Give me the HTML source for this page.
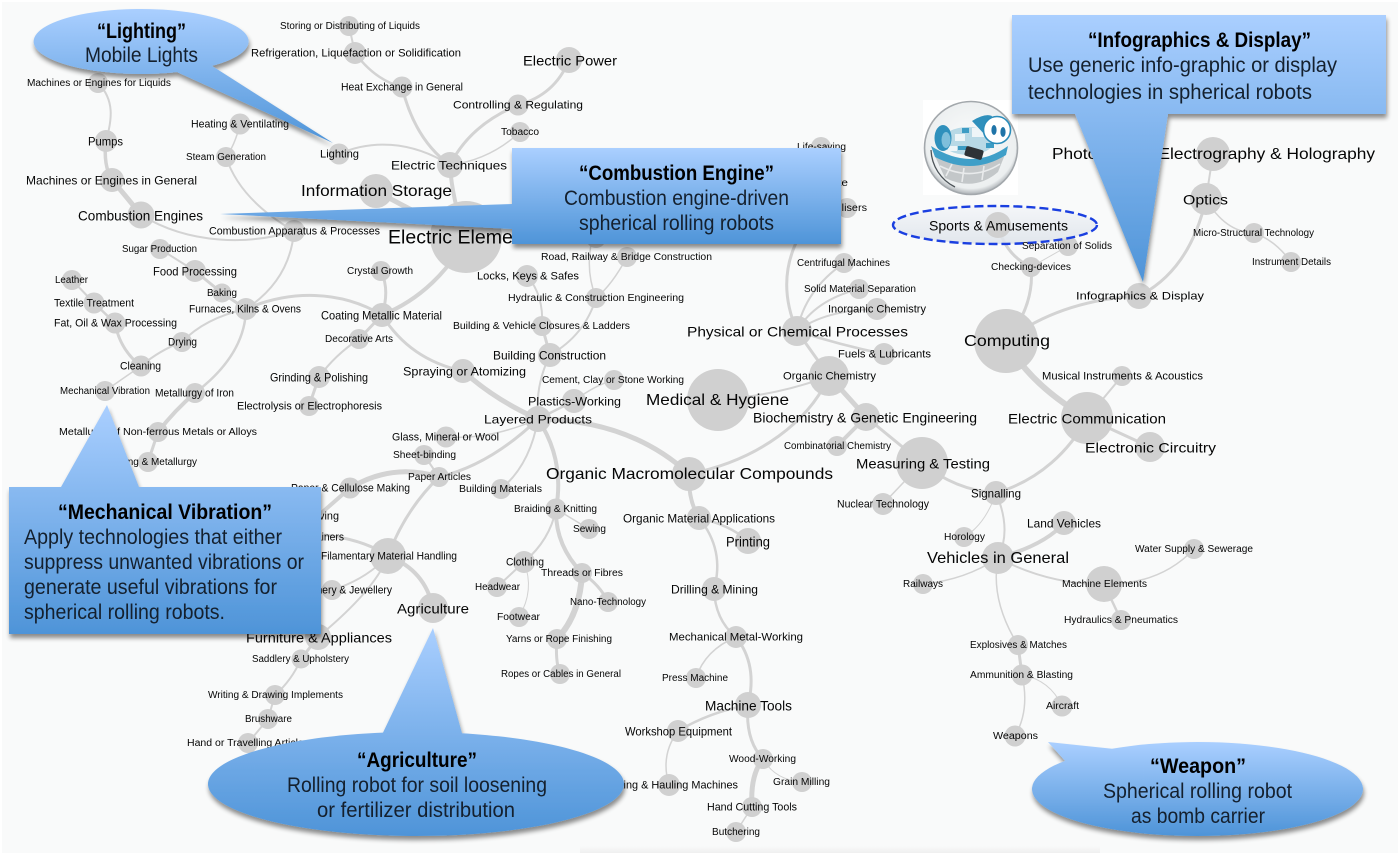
<!DOCTYPE html>
<html><head><meta charset="utf-8"><title>Spherical robot technology map</title>
<style>
html,body{margin:0;padding:0;background:#fff;width:1400px;height:856px;overflow:hidden}
svg{display:block;filter:blur(.3px)}
.e path{fill:none;stroke:#d3d3d3;stroke-linecap:round}
.n circle{fill:#d0d0d0}
.t{transform:translateY(.6px)}
.t text{font-family:"Liberation Sans",Arial,sans-serif;fill:#050505;dominant-baseline:central}
.c text{font-family:"Liberation Sans",Arial,sans-serif;fill:#14202e;dominant-baseline:central;font-size:21.5px}
.c text.b{font-weight:bold;fill:#000}
</style></head><body>
<svg width="1400" height="856" viewBox="0 0 1400 856" xmlns="http://www.w3.org/2000/svg">
<defs>
<linearGradient id="g" x1="0" y1="0" x2="0" y2="1"><stop offset="0" stop-color="#aacfff"/><stop offset="1" stop-color="#4e94d8"/></linearGradient>
<linearGradient id="bot" x1="0" y1="0" x2="0" y2="1"><stop offset="0" stop-color="#f9fafa"/><stop offset="1" stop-color="#efefef"/></linearGradient>
<linearGradient id="sp" x1="0" y1="0" x2="0" y2="1"><stop offset="0" stop-color="#f3f5f8"/><stop offset="1" stop-color="#dde3ea"/></linearGradient>
<radialGradient id="glass" cx=".5" cy=".45" r=".55"><stop offset="0" stop-color="#fbfcfc"/><stop offset=".88" stop-color="#eceff0"/><stop offset="1" stop-color="#a9aeb2"/></radialGradient>
<filter id="sh" x="-10%" y="-10%" width="120%" height="125%"><feGaussianBlur in="SourceAlpha" stdDeviation="2.5"/><feOffset dx="1" dy="4"/><feComponentTransfer><feFuncA type="linear" slope=".45"/></feComponentTransfer><feMerge><feMergeNode/><feMergeNode in="SourceGraphic"/></feMerge></filter>
</defs>
<rect width="1400" height="856" fill="#fff"/>
<rect x="2" y="2" width="1396" height="851" fill="#f9fafa"/>
<rect x="580" y="846" width="520" height="7" fill="url(#bot)"/>

<g class="e">
<path stroke-width="5" d="M376 191Q420 215 466 237"/>
<path stroke-width="4" d="M450 165Q452 200 466 237"/>
<path stroke-width="3" d="M450 165Q415 140 402 87"/>
<path stroke-width="2.5" d="M402 87Q375 80 355 53"/>
<path stroke-width="2" d="M355 53L349 26"/>
<path stroke-width="2" d="M450 165C410 140 370 140 339 154"/>
<path stroke-width="3" d="M450 165Q470 125 518 105"/>
<path stroke-width="3" d="M518 105Q555 95 569 60"/>
<path stroke-width="1.5" d="M450 165Q490 160 520 132"/>
<path stroke-width="2" d="M294 231Q240 200 226 157"/>
<path stroke-width="1.5" d="M226 157Q235 145 240 124"/>
<path stroke-width="2" d="M141 215C190 245 250 245 294 231"/>
<path stroke-width="5" d="M141 215Q125 195 112 180"/>
<path stroke-width="3.5" d="M112 180Q103 165 106 141"/>
<path stroke-width="2" d="M106 141C112 120 115 100 98 83"/>
<path stroke-width="2" d="M294 231Q290 280 246 309"/>
<path stroke-width="3" d="M246 309L222 293"/>
<path stroke-width="3" d="M222 293L195 271"/>
<path stroke-width="2" d="M195 271L160 249"/>
<path stroke-width="2.5" d="M246 309Q245 355 195 393"/>
<path stroke-width="4" d="M195 393Q175 410 158 432"/>
<path stroke-width="3" d="M158 432L148 462"/>
<path stroke-width="2" d="M246 309Q205 318 182 342"/>
<path stroke-width="2" d="M182 342Q160 350 141 366"/>
<path stroke-width="1.5" d="M141 366L105 391"/>
<path stroke-width="3" d="M141 366Q120 350 115 323"/>
<path stroke-width="2.5" d="M115 323L94 303"/>
<path stroke-width="2" d="M94 303L72 280"/>
<path stroke-width="3" d="M246 309C290 290 340 290 382 315"/>
<path stroke-width="4" d="M382 315C420 300 450 270 466 237"/>
<path stroke-width="3" d="M382 315Q390 290 381 271"/>
<path stroke-width="3" d="M382 315L359 339"/>
<path stroke-width="2" d="M359 339Q335 355 319 377"/>
<path stroke-width="3" d="M319 377L309 406"/>
<path stroke-width="3" d="M382 315Q410 360 463 371"/>
<path stroke-width="5" d="M463 371Q495 400 538 419"/>
<path stroke-width="5" d="M538 419Q630 420 689 474"/>
<path stroke-width="2" d="M550 355Q535 385 538 419"/>
<path stroke-width="2.5" d="M574 401L538 419"/>
<path stroke-width="3" d="M550 355L542 326"/>
<path stroke-width="2" d="M542 326Q544 295 527 276"/>
<path stroke-width="2" d="M550 355Q585 335 596 298"/>
<path stroke-width="1.5" d="M596 298Q612 285 627 257"/>
<path stroke-width="1.5" d="M596 298Q585 270 592 240"/>
<path stroke-width="1.5" d="M574 401Q595 385 614 380"/>
<path stroke-width="1.5" d="M538 419Q490 440 446 437"/>
<path stroke-width="3" d="M538 419Q490 465 439 477"/>
<path stroke-width="5" d="M439 477C410 468 380 470 350 488"/>
<path stroke-width="4" d="M350 488L318 516"/>
<path stroke-width="2" d="M424 455L439 477"/>
<path stroke-width="3" d="M439 477Q405 510 388 556"/>
<path stroke-width="2" d="M538 419Q530 465 501 489"/>
<path stroke-width="4" d="M538 419Q565 460 556 509"/>
<path stroke-width="4" d="M556 509Q555 545 582 573"/>
<path stroke-width="3" d="M582 573Q600 585 608 602"/>
<path stroke-width="6" d="M582 573Q580 615 557 639"/>
<path stroke-width="3" d="M557 639Q555 660 560 674"/>
<path stroke-width="1.5" d="M556 509L589 529"/>
<path stroke-width="2" d="M556 509Q550 540 524 562"/>
<path stroke-width="2" d="M524 562L497 587"/>
<path stroke-width="1" d="M524 562Q535 590 519 617"/>
<path stroke-width="4" d="M388 556Q425 570 433 608"/>
<path stroke-width="3" d="M388 556Q365 540 325 535"/>
<path stroke-width="2" d="M388 556Q365 580 332 590"/>
<path stroke-width="2" d="M388 556Q375 590 318 637"/>
<path stroke-width="3" d="M318 637L301 659"/>
<path stroke-width="2" d="M301 659Q292 680 275 695"/>
<path stroke-width="2" d="M275 695L268 719"/>
<path stroke-width="2" d="M268 719L248 743"/>
<path stroke-width="3" d="M689 474C760 460 810 420 829 376"/>
<path stroke-width="4" d="M689 474Q688 500 699 518"/>
<path stroke-width="2.5" d="M699 518Q730 525 748 541"/>
<path stroke-width="2.5" d="M699 518Q725 550 714 589"/>
<path stroke-width="2.5" d="M714 589Q715 620 736 637"/>
<path stroke-width="1.5" d="M736 637Q705 650 696 678"/>
<path stroke-width="3" d="M736 637Q758 665 748 705"/>
<path stroke-width="2.5" d="M748 705Q710 712 678 731"/>
<path stroke-width="1.5" d="M678 731Q660 755 669 785"/>
<path stroke-width="3" d="M748 705Q745 740 763 759"/>
<path stroke-width="1" d="M763 759Q775 780 802 782"/>
<path stroke-width="5" d="M763 759Q750 775 752 807"/>
<path stroke-width="1.5" d="M752 807L736 832"/>
<path stroke-width="3" d="M829 376L797 331"/>
<path stroke-width="2" d="M718 400Q780 395 829 376"/>
<path stroke-width="2.5" d="M797 331Q840 345 884 354"/>
<path stroke-width="2" d="M797 331Q825 310 877 309"/>
<path stroke-width="2" d="M797 331Q815 300 859 289"/>
<path stroke-width="2" d="M797 331Q805 290 844 263"/>
<path stroke-width="3" d="M797 331Q775 280 800 235"/>
<path stroke-width="5" d="M829 376L866 417"/>
<path stroke-width="4" d="M866 417L837 446"/>
<path stroke-width="3" d="M866 417L922 463"/>
<path stroke-width="1.5" d="M922 463L883 504"/>
<path stroke-width="3" d="M922 463Q955 490 996 493"/>
<path stroke-width="3" d="M996 493C1040 480 1070 450 1087 418"/>
<path stroke-width="6" d="M1006 341Q1030 385 1087 418"/>
<path stroke-width="2" d="M1087 418L1122 376"/>
<path stroke-width="3" d="M1087 418L1150 447"/>
<path stroke-width="3" d="M1006 341Q1035 305 1031 267"/>
<path stroke-width="3" d="M1031 267Q1005 255 998 225"/>
<path stroke-width="1" d="M1031 267L1068 246"/>
<path stroke-width="3" d="M1006 341Q1060 300 1139 296"/>
<path stroke-width="3" d="M1139 296Q1190 270 1206 199"/>
<path stroke-width="2" d="M1206 199L1213 154"/>
<path stroke-width="1.5" d="M1206 199Q1225 232 1254 233"/>
<path stroke-width="1.5" d="M1254 233Q1275 240 1291 262"/>
<path stroke-width="1" d="M996 493Q985 525 964 537"/>
<path stroke-width="2" d="M996 493Q1012 530 998 558"/>
<path stroke-width="4" d="M998 558Q1045 545 1064 523"/>
<path stroke-width="1.5" d="M998 558Q965 580 923 584"/>
<path stroke-width="2" d="M998 558Q1050 585 1104 584"/>
<path stroke-width="1.5" d="M1104 584Q1160 585 1194 549"/>
<path stroke-width="2.5" d="M1104 584L1121 620"/>
<path stroke-width="1.5" d="M998 558Q990 600 1018 645"/>
<path stroke-width="3" d="M1018 645L1022 675"/>
<path stroke-width="1" d="M1022 675Q1050 680 1062 706"/>
<path stroke-width="1.5" d="M1022 675Q1030 710 1015 736"/>
</g>

<g class="n">
<circle cx="349" cy="26" r="10"/><circle cx="355" cy="53" r="11"/><circle cx="402" cy="87" r="10.5"/><circle cx="98" cy="83" r="10"/><circle cx="106" cy="141" r="11"/><circle cx="112" cy="180" r="12"/><circle cx="141" cy="215" r="13.5"/><circle cx="240" cy="124" r="10.5"/><circle cx="226" cy="157" r="10"/><circle cx="339" cy="154" r="10.5"/><circle cx="450" cy="165" r="13"/><circle cx="376" cy="191" r="17"/><circle cx="466" cy="237" r="36"/><circle cx="294" cy="231" r="11"/><circle cx="160" cy="249" r="10"/><circle cx="195" cy="271" r="11"/><circle cx="72" cy="280" r="10"/><circle cx="94" cy="303" r="10.5"/><circle cx="222" cy="293" r="9.5"/><circle cx="246" cy="309" r="11"/><circle cx="115" cy="323" r="10.5"/><circle cx="381" cy="271" r="10"/><circle cx="382" cy="315" r="12"/><circle cx="359" cy="339" r="10"/><circle cx="182" cy="342" r="10"/><circle cx="141" cy="366" r="10.5"/><circle cx="105" cy="391" r="10"/><circle cx="195" cy="393" r="10"/><circle cx="319" cy="377" r="11"/><circle cx="309" cy="406" r="10"/><circle cx="463" cy="371" r="12"/><circle cx="158" cy="432" r="10"/><circle cx="148" cy="462" r="10"/><circle cx="446" cy="437" r="10.5"/><circle cx="424" cy="455" r="10"/><circle cx="439" cy="477" r="10"/><circle cx="350" cy="488" r="10.5"/><circle cx="388" cy="556" r="18"/><circle cx="332" cy="590" r="10"/><circle cx="433" cy="608" r="15"/><circle cx="318" cy="637" r="13"/><circle cx="301" cy="659" r="9.5"/><circle cx="275" cy="695" r="10"/><circle cx="268" cy="719" r="10"/><circle cx="248" cy="743" r="10"/><circle cx="501" cy="489" r="10"/><circle cx="538" cy="419" r="13"/><circle cx="574" cy="401" r="12"/><circle cx="550" cy="355" r="12"/><circle cx="614" cy="380" r="10"/><circle cx="542" cy="326" r="10"/><circle cx="596" cy="298" r="10"/><circle cx="527" cy="276" r="11"/><circle cx="627" cy="257" r="10"/><circle cx="596" cy="238" r="10"/><circle cx="844" cy="263" r="10"/><circle cx="859" cy="289" r="10"/><circle cx="877" cy="309" r="11"/><circle cx="797" cy="331" r="15"/><circle cx="884" cy="354" r="11"/><circle cx="829" cy="376" r="20"/><circle cx="718" cy="400" r="31"/><circle cx="866" cy="417" r="14"/><circle cx="837" cy="446" r="10"/><circle cx="922" cy="463" r="26"/><circle cx="689" cy="474" r="17"/><circle cx="883" cy="504" r="11"/><circle cx="699" cy="518" r="12"/><circle cx="556" cy="509" r="10.5"/><circle cx="589" cy="529" r="10"/><circle cx="748" cy="541" r="13"/><circle cx="524" cy="562" r="11"/><circle cx="582" cy="573" r="10"/><circle cx="497" cy="587" r="10"/><circle cx="714" cy="589" r="12"/><circle cx="608" cy="602" r="10"/><circle cx="519" cy="617" r="10"/><circle cx="557" cy="639" r="10"/><circle cx="736" cy="637" r="11"/><circle cx="560" cy="674" r="10"/><circle cx="696" cy="678" r="10"/><circle cx="748" cy="705" r="13"/><circle cx="678" cy="731" r="11"/><circle cx="763" cy="759" r="10"/><circle cx="669" cy="785" r="11"/><circle cx="802" cy="782" r="10"/><circle cx="752" cy="807" r="10"/><circle cx="736" cy="832" r="10"/><circle cx="821" cy="147" r="10"/><circle cx="847" cy="208" r="10"/><circle cx="520" cy="132" r="10"/><circle cx="569" cy="60" r="13"/><circle cx="518" cy="105" r="10.5"/><circle cx="1213" cy="154" r="17"/><circle cx="1206" cy="199" r="16"/><circle cx="1068" cy="246" r="10"/><circle cx="1031" cy="267" r="10"/><circle cx="1254" cy="233" r="10"/><circle cx="1291" cy="262" r="10"/><circle cx="1139" cy="296" r="13"/><circle cx="1006" cy="341" r="32"/><circle cx="1122" cy="376" r="10"/><circle cx="1087" cy="418" r="26"/><circle cx="1150" cy="447" r="15"/><circle cx="996" cy="493" r="12"/><circle cx="1064" cy="523" r="12"/><circle cx="964" cy="537" r="10"/><circle cx="998" cy="558" r="16"/><circle cx="1194" cy="549" r="10"/><circle cx="1104" cy="584" r="18"/><circle cx="923" cy="584" r="10"/><circle cx="1121" cy="620" r="10"/><circle cx="1018" cy="645" r="10"/><circle cx="1022" cy="675" r="10.5"/><circle cx="1062" cy="706" r="10.5"/><circle cx="1015" cy="736" r="10.5"/>
</g>

<ellipse cx="995" cy="225" rx="102" ry="19" fill="url(#sp)" fill-opacity=".85" stroke="#1a3fe0" stroke-width="2.4" stroke-dasharray="9 4"/>
<circle cx="998" cy="225" r="13" fill="#d0d0d0"/>

<g class="t" font-size="10">
<g font-size="10">
<text x="280" y="26" textLength="140" lengthAdjust="spacingAndGlyphs">Storing or Distributing of Liquids</text>
<text x="27" y="83" textLength="144" lengthAdjust="spacingAndGlyphs">Machines or Engines for Liquids</text>
<text x="186" y="157" textLength="80" lengthAdjust="spacingAndGlyphs">Steam Generation</text>
<text x="122" y="249" textLength="75" lengthAdjust="spacingAndGlyphs">Sugar Production</text>
<text x="55" y="280" textLength="33" lengthAdjust="spacingAndGlyphs">Leather</text>
<text x="207" y="293" textLength="30" lengthAdjust="spacingAndGlyphs">Baking</text>
<text x="347" y="271" textLength="66" lengthAdjust="spacingAndGlyphs">Crystal Growth</text>
<text x="325" y="339" textLength="68" lengthAdjust="spacingAndGlyphs">Decorative Arts</text>
<text x="60" y="391" textLength="90" lengthAdjust="spacingAndGlyphs">Mechanical Vibration</text>
<text x="393" y="455" textLength="63" lengthAdjust="spacingAndGlyphs">Sheet-binding</text>
<text x="408" y="477" textLength="63" lengthAdjust="spacingAndGlyphs">Paper Articles</text>
<text x="252" y="659" textLength="97" lengthAdjust="spacingAndGlyphs">Saddlery &amp; Upholstery</text>
<text x="208" y="695" textLength="135" lengthAdjust="spacingAndGlyphs">Writing &amp; Drawing Implements</text>
<text x="245" y="719" textLength="47" lengthAdjust="spacingAndGlyphs">Brushware</text>
<text x="459" y="489" textLength="83" lengthAdjust="spacingAndGlyphs">Building Materials</text>
<text x="542" y="380" textLength="142" lengthAdjust="spacingAndGlyphs">Cement, Clay or Stone Working</text>
<text x="453" y="326" textLength="177" lengthAdjust="spacingAndGlyphs">Building &amp; Vehicle Closures &amp; Ladders</text>
<text x="508" y="298" textLength="176" lengthAdjust="spacingAndGlyphs">Hydraulic &amp; Construction Engineering</text>
<text x="541" y="257" textLength="171" lengthAdjust="spacingAndGlyphs">Road, Railway &amp; Bridge Construction</text>
<text x="797" y="263" textLength="93" lengthAdjust="spacingAndGlyphs">Centrifugal Machines</text>
<text x="804" y="289" textLength="112" lengthAdjust="spacingAndGlyphs">Solid Material Separation</text>
<text x="784" y="446" textLength="107" lengthAdjust="spacingAndGlyphs">Combinatorial Chemistry</text>
<text x="514" y="509" textLength="83" lengthAdjust="spacingAndGlyphs">Braiding &amp; Knitting</text>
<text x="573" y="529" textLength="33" lengthAdjust="spacingAndGlyphs">Sewing</text>
<text x="541" y="573" textLength="82" lengthAdjust="spacingAndGlyphs">Threads or Fibres</text>
<text x="475" y="587" textLength="45" lengthAdjust="spacingAndGlyphs">Headwear</text>
<text x="570" y="602" textLength="76" lengthAdjust="spacingAndGlyphs">Nano-Technology</text>
<text x="497" y="617" textLength="43" lengthAdjust="spacingAndGlyphs">Footwear</text>
<text x="506" y="639" textLength="106" lengthAdjust="spacingAndGlyphs">Yarns or Rope Finishing</text>
<text x="501" y="674" textLength="120" lengthAdjust="spacingAndGlyphs">Ropes or Cables in General</text>
<text x="662" y="678" textLength="66" lengthAdjust="spacingAndGlyphs">Press Machine</text>
<text x="729" y="759" textLength="67" lengthAdjust="spacingAndGlyphs">Wood-Working</text>
<text x="773" y="782" textLength="57" lengthAdjust="spacingAndGlyphs">Grain Milling</text>
<text x="712" y="832" textLength="48" lengthAdjust="spacingAndGlyphs">Butchering</text>
<text x="797" y="147" textLength="49" lengthAdjust="spacingAndGlyphs">Life-saving</text>
<text x="800" y="183" textLength="48" lengthAdjust="spacingAndGlyphs">Concrete</text>
<text x="820" y="208" textLength="47" lengthAdjust="spacingAndGlyphs">Fertilisers</text>
<text x="501" y="132" textLength="38" lengthAdjust="spacingAndGlyphs">Tobacco</text>
<text x="1022" y="246" textLength="90" lengthAdjust="spacingAndGlyphs">Separation of Solids</text>
<text x="991" y="267" textLength="80" lengthAdjust="spacingAndGlyphs">Checking-devices</text>
<text x="1193" y="233" textLength="121" lengthAdjust="spacingAndGlyphs">Micro-Structural Technology</text>
<text x="1252" y="262" textLength="79" lengthAdjust="spacingAndGlyphs">Instrument Details</text>
<text x="944" y="537" textLength="41" lengthAdjust="spacingAndGlyphs">Horology</text>
<text x="1135" y="549" textLength="118" lengthAdjust="spacingAndGlyphs">Water Supply &amp; Sewerage</text>
<text x="1062" y="584" textLength="85" lengthAdjust="spacingAndGlyphs">Machine Elements</text>
<text x="903" y="584" textLength="40" lengthAdjust="spacingAndGlyphs">Railways</text>
<text x="1064" y="620" textLength="114" lengthAdjust="spacingAndGlyphs">Hydraulics &amp; Pneumatics</text>
<text x="970" y="645" textLength="97" lengthAdjust="spacingAndGlyphs">Explosives &amp; Matches</text>
<text x="970" y="675" textLength="103" lengthAdjust="spacingAndGlyphs">Ammunition &amp; Blasting</text>
<text x="1046" y="706" textLength="33" lengthAdjust="spacingAndGlyphs">Aircraft</text>
<text x="993" y="736" textLength="45" lengthAdjust="spacingAndGlyphs">Weapons</text>
<text x="187" y="743" textLength="122" lengthAdjust="spacingAndGlyphs">Hand or Travelling Articles</text>
<text x="59" y="432" textLength="198" lengthAdjust="spacingAndGlyphs">Metallurgy of Non-ferrous Metals or Alloys</text>
<text x="105" y="462" textLength="92" lengthAdjust="spacingAndGlyphs">Casting &amp; Metallurgy</text>
</g>
<g font-size="11">
<text x="251" y="53" textLength="210" lengthAdjust="spacingAndGlyphs">Refrigeration, Liquefaction or Solidification</text>
<text x="341" y="87" textLength="122" lengthAdjust="spacingAndGlyphs">Heat Exchange in General</text>
<text x="191" y="124" textLength="98" lengthAdjust="spacingAndGlyphs">Heating &amp; Ventilating</text>
<text x="320" y="154" textLength="39" lengthAdjust="spacingAndGlyphs">Lighting</text>
<text x="209" y="231" textLength="171" lengthAdjust="spacingAndGlyphs">Combustion Apparatus &amp; Processes</text>
<text x="54" y="303" textLength="80" lengthAdjust="spacingAndGlyphs">Textile Treatment</text>
<text x="189" y="309" textLength="112" lengthAdjust="spacingAndGlyphs">Furnaces, Kilns &amp; Ovens</text>
<text x="54" y="323" textLength="123" lengthAdjust="spacingAndGlyphs">Fat, Oil &amp; Wax Processing</text>
<text x="168" y="342" textLength="29" lengthAdjust="spacingAndGlyphs">Drying</text>
<text x="120" y="366" textLength="41" lengthAdjust="spacingAndGlyphs">Cleaning</text>
<text x="155" y="393" textLength="79" lengthAdjust="spacingAndGlyphs">Metallurgy of Iron</text>
<text x="237" y="406" textLength="145" lengthAdjust="spacingAndGlyphs">Electrolysis or Electrophoresis</text>
<text x="392" y="437" textLength="107" lengthAdjust="spacingAndGlyphs">Glass, Mineral or Wool</text>
<text x="291" y="488" textLength="119" lengthAdjust="spacingAndGlyphs">Paper &amp; Cellulose Making</text>
<text x="297" y="516" textLength="42" lengthAdjust="spacingAndGlyphs">Weaving</text>
<text x="294" y="537" textLength="50" lengthAdjust="spacingAndGlyphs">Containers</text>
<text x="321" y="556" textLength="136" lengthAdjust="spacingAndGlyphs">Filamentary Material Handling</text>
<text x="272" y="590" textLength="120" lengthAdjust="spacingAndGlyphs">Haberdashery &amp; Jewellery</text>
<text x="477" y="276" textLength="102" lengthAdjust="spacingAndGlyphs">Locks, Keys &amp; Safes</text>
<text x="828" y="309" textLength="98" lengthAdjust="spacingAndGlyphs">Inorganic Chemistry</text>
<text x="838" y="354" textLength="93" lengthAdjust="spacingAndGlyphs">Fuels &amp; Lubricants</text>
<text x="783" y="376" textLength="93" lengthAdjust="spacingAndGlyphs">Organic Chemistry</text>
<text x="837" y="504" textLength="92" lengthAdjust="spacingAndGlyphs">Nuclear Technology</text>
<text x="506" y="562" textLength="38" lengthAdjust="spacingAndGlyphs">Clothing</text>
<text x="669" y="637" textLength="134" lengthAdjust="spacingAndGlyphs">Mechanical Metal-Working</text>
<text x="609" y="785" textLength="129" lengthAdjust="spacingAndGlyphs">Lifting &amp; Hauling Machines</text>
<text x="707" y="807" textLength="90" lengthAdjust="spacingAndGlyphs">Hand Cutting Tools</text>
<text x="1042" y="376" textLength="161" lengthAdjust="spacingAndGlyphs">Musical Instruments &amp; Acoustics</text>
<text x="1076" y="296" textLength="128" lengthAdjust="spacingAndGlyphs">Infographics &amp; Display</text>
<text x="453" y="105" textLength="130" lengthAdjust="spacingAndGlyphs">Controlling &amp; Regulating</text>
</g>
<g font-size="12">
<text x="88" y="141" textLength="35" lengthAdjust="spacingAndGlyphs">Pumps</text>
<text x="26" y="180" textLength="171" lengthAdjust="spacingAndGlyphs">Machines or Engines in General</text>
<text x="153" y="271" textLength="84" lengthAdjust="spacingAndGlyphs">Food Processing</text>
<text x="321" y="315" textLength="121" lengthAdjust="spacingAndGlyphs">Coating Metallic Material</text>
<text x="270" y="377" textLength="98" lengthAdjust="spacingAndGlyphs">Grinding &amp; Polishing</text>
<text x="403" y="371" textLength="123" lengthAdjust="spacingAndGlyphs">Spraying or Atomizing</text>
<text x="493" y="355" textLength="113" lengthAdjust="spacingAndGlyphs">Building Construction</text>
<text x="528" y="401" textLength="93" lengthAdjust="spacingAndGlyphs">Plastics-Working</text>
<text x="484" y="419" textLength="108" lengthAdjust="spacingAndGlyphs">Layered Products</text>
<text x="623" y="518" textLength="152" lengthAdjust="spacingAndGlyphs">Organic Material Applications</text>
<text x="671" y="589" textLength="87" lengthAdjust="spacingAndGlyphs">Drilling &amp; Mining</text>
<text x="625" y="731" textLength="107" lengthAdjust="spacingAndGlyphs">Workshop Equipment</text>
<text x="971" y="493" textLength="50" lengthAdjust="spacingAndGlyphs">Signalling</text>
<text x="1027" y="523" textLength="74" lengthAdjust="spacingAndGlyphs">Land Vehicles</text>
<text x="391" y="165" textLength="116" lengthAdjust="spacingAndGlyphs">Electric Techniques</text>
</g>
<g font-size="14">
<text x="78" y="215" textLength="125" lengthAdjust="spacingAndGlyphs">Combustion Engines</text>
<text x="397" y="608" textLength="72" lengthAdjust="spacingAndGlyphs">Agriculture</text>
<text x="246" y="637" textLength="146" lengthAdjust="spacingAndGlyphs">Furniture &amp; Appliances</text>
<text x="726" y="541" textLength="44" lengthAdjust="spacingAndGlyphs">Printing</text>
<text x="705" y="705" textLength="87" lengthAdjust="spacingAndGlyphs">Machine Tools</text>
<text x="523" y="60" textLength="94" lengthAdjust="spacingAndGlyphs">Electric Power</text>
<text x="929" y="225" textLength="139" lengthAdjust="spacingAndGlyphs">Sports &amp; Amusements</text>
<text x="1183" y="199" textLength="45" lengthAdjust="spacingAndGlyphs">Optics</text>
<text x="753" y="417" textLength="224" lengthAdjust="spacingAndGlyphs">Biochemistry &amp; Genetic Engineering</text>
<text x="687" y="331" textLength="221" lengthAdjust="spacingAndGlyphs">Physical or Chemical Processes</text>
<text x="856" y="463" textLength="134" lengthAdjust="spacingAndGlyphs">Measuring &amp; Testing</text>
<text x="1008" y="418" textLength="158" lengthAdjust="spacingAndGlyphs">Electric Communication</text>
<text x="1085" y="447" textLength="131" lengthAdjust="spacingAndGlyphs">Electronic Circuitry</text>
</g>
<g font-size="16">
<text x="301" y="191" textLength="151" lengthAdjust="spacingAndGlyphs">Information Storage</text>
<text x="646" y="400" textLength="143" lengthAdjust="spacingAndGlyphs">Medical &amp; Hygiene</text>
<text x="546" y="474" textLength="287" lengthAdjust="spacingAndGlyphs">Organic Macromolecular Compounds</text>
<text x="1052" y="154" textLength="323" lengthAdjust="spacingAndGlyphs">Photography, Electrography &amp; Holography</text>
<text x="927" y="558" textLength="142" lengthAdjust="spacingAndGlyphs">Vehicles in General</text>
<text x="964" y="341" textLength="86" lengthAdjust="spacingAndGlyphs">Computing</text>
</g>
<text x="388" y="237" font-size="19.5" textLength="151" lengthAdjust="spacingAndGlyphs">Electric Elements</text>
</g>

<!-- robot picture -->
<rect x="923" y="100" width="95" height="95" fill="#fff"/>
<circle cx="971" cy="148" r="46.5" fill="url(#glass)" stroke="#a3a8ac" stroke-width="1.6"/>
<path d="M931 150A43 43 0 0 0 955 187" fill="none" stroke="#4c5358" stroke-width="1.3"/>
<path d="M934 154Q972 172 1006 152L998 172Q975 192 945 178Z" fill="#c3c7c9"/>
<path d="M940 166Q972 182 1000 164M946 176L952 164M962 182L964 168M982 180L984 166" fill="none" stroke="#e9ebec" stroke-width="1.6"/>
<path d="M931 146Q972 172 1008 146L1006 155Q972 176 935 157Z" fill="#3f9fc8"/>
<ellipse cx="968" cy="141" rx="26" ry="14" fill="#b8d9e6"/>
<path d="M955 134h10v7h-10zM972 128h12v9h-12zM948 146h9v5h-9z" fill="#eef5f8"/>
<path d="M962 128h7v5h-7zM986 143h8v5h-8zM958 146h9v4h-9z" fill="#3d9cc4"/>
<ellipse cx="943" cy="138" rx="8.5" ry="13" fill="#2f90bc"/>
<ellipse cx="946" cy="140" rx="4.5" ry="8" fill="#7fbfdb"/>
<rect x="965" y="148" width="18" height="10" rx="2" fill="#2e3236" transform="rotate(16 974 153)"/>
<path d="M972 121Q985 113 992 116L986 136Z" fill="#2f90bc"/>
<circle cx="997" cy="130" r="13.5" fill="#fff" stroke="#2b8dbb" stroke-width="1.6"/>
<ellipse cx="994" cy="130" rx="2.6" ry="5" fill="#1f74a8"/><ellipse cx="1003" cy="132" rx="2.6" ry="5" fill="#1f74a8"/>

<g class="c">
<path filter="url(#sh)" fill="url(#g)" d="M212 65.9A107.5 32.5 0 1 0 177 72.1L333 143Z"/>
<text class="b" x="97" y="31" textLength="89" lengthAdjust="spacingAndGlyphs">“Lighting”</text>
<text x="85" y="55" textLength="113" lengthAdjust="spacingAndGlyphs">Mobile Lights</text>

<path filter="url(#sh)" fill="url(#g)" d="M512 148H841V244H512V229L220 214L512 204Z"/>
<text class="b" x="579" y="173" textLength="195" lengthAdjust="spacingAndGlyphs">“Combustion Engine”</text>
<text x="564" y="198" textLength="225" lengthAdjust="spacingAndGlyphs">Combustion engine-driven</text>
<text x="579" y="223" textLength="195" lengthAdjust="spacingAndGlyphs">spherical rolling robots</text>

<path filter="url(#sh)" fill="url(#g)" d="M1012 15H1386V114H1168L1143 282L1075 114H1012Z"/>
<text class="b" x="1088" y="40" textLength="223" lengthAdjust="spacingAndGlyphs">“Infographics &amp; Display”</text>
<text x="1028" y="65" textLength="309" lengthAdjust="spacingAndGlyphs">Use generic info-graphic or display</text>
<text x="1028" y="92" textLength="284" lengthAdjust="spacingAndGlyphs">technologies in spherical robots</text>

<path filter="url(#sh)" fill="url(#g)" d="M9 487H61L107 405L139 487H321V634H9Z"/>
<text class="b" x="58" y="512" textLength="214" lengthAdjust="spacingAndGlyphs">“Mechanical Vibration”</text>
<text x="24" y="537" textLength="258" lengthAdjust="spacingAndGlyphs">Apply technologies that either</text>
<text x="24" y="562" textLength="280" lengthAdjust="spacingAndGlyphs">suppress unwanted vibrations or</text>
<text x="24" y="587" textLength="253" lengthAdjust="spacingAndGlyphs">generate useful vibrations for</text>
<text x="24" y="612" textLength="201" lengthAdjust="spacingAndGlyphs">spherical rolling robots.</text>

<path filter="url(#sh)" fill="url(#g)" d="M383 732.66L433 628L462 733.29A208 52 0 1 1 383 732.66Z"/>
<text class="b" x="357" y="760" textLength="120" lengthAdjust="spacingAndGlyphs">“Agriculture”</text>
<text x="287" y="785" textLength="260" lengthAdjust="spacingAndGlyphs">Rolling robot for soil loosening</text>
<text x="317" y="810" textLength="198" lengthAdjust="spacingAndGlyphs">or fertilizer distribution</text>

<path filter="url(#sh)" fill="url(#g)" d="M1048 742L1112 748.76A165.5 47 0 1 1 1065 760.84Z"/>
<text class="b" x="1150" y="766" textLength="96" lengthAdjust="spacingAndGlyphs">“Weapon”</text>
<text x="1103" y="791" textLength="189" lengthAdjust="spacingAndGlyphs">Spherical rolling robot</text>
<text x="1131" y="816" textLength="134" lengthAdjust="spacingAndGlyphs">as bomb carrier</text>
</g>
</svg>
</body></html>
